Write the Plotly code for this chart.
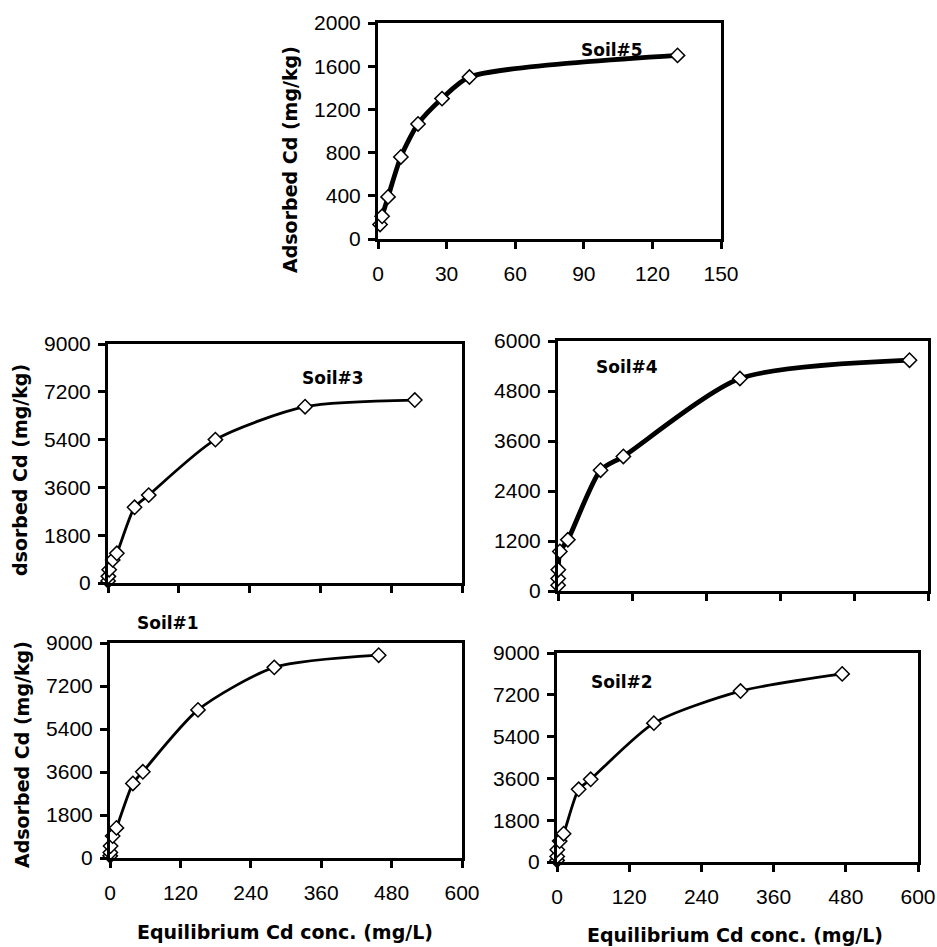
import plotly.graph_objects as go

W, H = 937, 947

# ---------------- data ----------------
soil5_x = [0.9, 1.8, 4.4, 10, 17.5, 28, 40, 131]
soil5_y = [135, 210, 390, 760, 1065, 1300, 1500, 1700]

soil3_x = [0.2, 0.6, 2, 8, 15, 45, 69, 182, 334, 520]
soil3_y = [80, 250, 500, 870, 1120, 2850, 3310, 5400, 6640, 6890]

soil4_x = [0.2, 0.3, 0.5, 3, 16, 69, 106, 295, 570]
soil4_y = [140, 300, 510, 950, 1230, 2900, 3230, 5100, 5540]

soil1_x = [0.3, 0.6, 1, 4.5, 11, 39, 56, 150, 280, 458]
soil1_y = [90, 230, 500, 920, 1260, 3120, 3610, 6200, 7980, 8490]

soil2_x = [0.1, 0.3, 0.5, 4.4, 11, 36, 56, 161, 305, 474]
soil2_y = [70, 240, 530, 900, 1220, 3130, 3560, 5980, 7360, 8100]

x_ticks_small = [0, 30, 60, 90, 120, 150]
x_ticks_big = [0, 120, 240, 360, 480, 600]
y_ticks_5 = [0, 400, 800, 1200, 1600, 2000]
y_ticks_9000 = [0, 1800, 3600, 5400, 7200, 9000]
y_ticks_6000 = [0, 1200, 2400, 3600, 4800, 6000]

y_title = "Adsorbed Cd (mg/kg)"
y_title_clipped = "dsorbed Cd (mg/kg)"
x_title = "Equilibrium Cd conc. (mg/L)"


def px(x):
    return x / W


def py(y):
    return 1 - y / H


TICKFONT = dict(family="Liberation Sans, Arial", size=21, color="black")
TITLEFONT = dict(family="DejaVu Sans", size=19, color="black")

panels = [
    # name, xs, ys, suffix, xbox(px), ybox(px), xrange, xticks, showxlabels, yticks, linewidth
    ("Soil#5", soil5_x, soil5_y, "", (378, 721), (23, 239), [0, 150], x_ticks_small, True, y_ticks_5, 4.8),
    ("Soil#3", soil3_x, soil3_y, "2", (108, 462), (344, 583), [0, 600], x_ticks_big, False, y_ticks_9000, 2.8),
    ("Soil#4", soil4_x, soil4_y, "3", (558, 928), (341, 591), [0, 600], x_ticks_big, False, y_ticks_6000, 4.8),
    ("Soil#1", soil1_x, soil1_y, "4", (110, 462), (643, 858), [0, 600], x_ticks_big, True, y_ticks_9000, 2.8),
    ("Soil#2", soil2_x, soil2_y, "5", (557, 918), (653, 862), [0, 600], x_ticks_big, True, y_ticks_9000, 2.8),
]

fig = go.Figure()
layout = dict(
    width=W, height=H,
    margin=dict(l=0, r=0, t=0, b=0, autoexpand=False),
    paper_bgcolor="white", plot_bgcolor="white",
    showlegend=False,
)

for name, xs, ys, suf, xb, yb, xr, xt, showxl, yt, lw in panels:
    fig.add_trace(go.Scatter(
        x=xs, y=ys, mode="lines+markers",
        xaxis="x" + suf, yaxis="y" + suf,
        line=dict(color="black", width=lw, shape="spline", smoothing=0.7),
        marker=dict(symbol="diamond", size=11, color="white",
                    line=dict(color="black", width=1.5)),
        cliponaxis=False, name=name,
    ))
    ax_common = dict(
        showgrid=False, zeroline=False, showline=True, mirror=True,
        linecolor="black", linewidth=3,
        ticks="outside", ticklen=7, tickwidth=3, tickcolor="black",
        tickfont=TICKFONT, automargin=False,
    )
    layout["xaxis" + suf] = dict(
        ax_common, domain=[px(xb[0]), px(xb[1])], range=xr,
        tickmode="array", tickvals=xt, ticktext=[str(v) for v in xt],
        showticklabels=showxl, ticklabelstandoff=7,
        anchor="y" + suf,
    )
    layout["yaxis" + suf] = dict(
        ax_common, domain=[py(yb[1]), py(yb[0])], range=[yt[0], yt[-1]],
        tickmode="array", tickvals=yt, ticktext=[str(v) for v in yt],
        ticklabelstandoff=3,
        anchor="x" + suf,
    )

annotations = [
    dict(text="<b>Soil#5</b>", x=px(612), y=py(50)),
    dict(text="<b>Soil#3</b>", x=px(333), y=py(378)),
    dict(text="<b>Soil#4</b>", x=px(627), y=py(367)),
    dict(text="<b>Soil#1</b>", x=px(168), y=py(623)),
    dict(text="<b>Soil#2</b>", x=px(622), y=py(682)),
]
for a in annotations:
    a.update(xref="paper", yref="paper", showarrow=False,
             font=dict(family="DejaVu Sans", size=17, color="black"),
             xanchor="center", yanchor="middle")

titles = [
    dict(text="<b>%s</b>" % y_title, x=px(290), y=py(160), textangle=-90),
    dict(text="<b>%s</b>" % y_title_clipped, x=px(20), y=py(470), textangle=-90),
    dict(text="<b>%s</b>" % y_title, x=px(22), y=py(755), textangle=-90),
    dict(text="<b>%s</b>" % x_title, x=px(285), y=py(932), textangle=0),
    dict(text="<b>%s</b>" % x_title, x=px(735), y=py(935), textangle=0),
]
for a in titles:
    a.update(xref="paper", yref="paper", showarrow=False, font=TITLEFONT,
             xanchor="center", yanchor="middle")

layout["annotations"] = annotations + titles
fig.update_layout(**layout)
fig.write_html(
    "out.html",
    config={"displayModeBar": False},
    post_script="document.body.style.margin='0';document.body.style.overflow='hidden';",
)
